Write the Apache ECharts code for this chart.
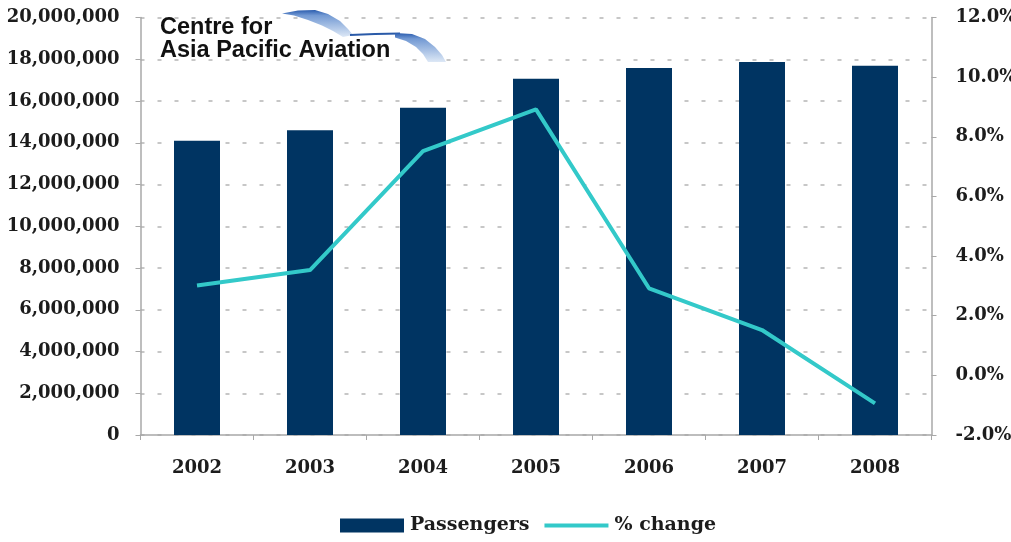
<!DOCTYPE html>
<html>
<head>
<meta charset="utf-8">
<script src="https://cdn.jsdelivr.net/npm/echarts@6/dist/echarts.min.js"></script>
<style>
  html, body { margin: 0; padding: 0; background: #fff; }
  #chart { width: 1011px; height: 542px; }
</style>
</head>
<body>
<div id="chart"></div>
<script>
// Annual passenger numbers with year-on-year growth
const years = ['2002', '2003', '2004', '2005', '2006', '2007', '2008'];
const passengers = [14100000, 14600000, 15680000, 17070000, 17580000, 17870000, 17690000];
const pctChange = [3.01, 3.53, 7.52, 8.92, 2.92, 1.52, -0.94];

const leftTicks = { min: 0, max: 20000000, interval: 2000000 };
const rightTicks = { min: -2, max: 12, interval: 2 };

const serif = 'DejaVu Serif';
const textColor = '#1c1c1c';
const axisGrey = '#a8a8a8';
const lineColor = '#33c9c9';

const swooshFill = () => new echarts.graphic.LinearGradient(0, 0, 0, 1, [
  { offset: 0, color: '#2a5cae' },
  { offset: 0.2, color: '#7299d3' },
  { offset: 1, color: '#dde8f6' }
]);

const chart = echarts.init(document.getElementById('chart'), null, { renderer: 'canvas' });

chart.setOption({
  animation: false,
  backgroundColor: '#ffffff',
  grid: {
    left: 140.5, right: 79.5, top: 17.5, bottom: 107,
    containLabel: false, outerBoundsMode: 'none'
  },
  legend: {
    left: 335,
    top: 511,
    itemWidth: 64,
    itemHeight: 14,
    itemGap: 13,
    textStyle: { fontFamily: serif, fontWeight: 'bold', fontSize: 19, color: textColor, padding: [0, 0, 0, 1] },
    data: [
      { name: 'Passengers', icon: 'rect' },
      { name: '% change', itemStyle: { opacity: 0 }, lineStyle: { width: 4, color: lineColor } }
    ]
  },
  xAxis: {
    type: 'category',
    data: years,
    axisLine: { lineStyle: { color: axisGrey, width: 1.5 } },
    axisTick: { show: true, length: 5, lineStyle: { color: axisGrey } },
    axisLabel: { fontFamily: serif, fontWeight: 'bold', fontSize: 18, color: textColor, margin: 24 }
  },
  yAxis: [
    {
      type: 'value',
      min: leftTicks.min,
      max: leftTicks.max,
      interval: leftTicks.interval,
      axisLine: { show: true, lineStyle: { color: axisGrey, width: 1.5 } },
      axisTick: { show: true, length: 5, lineStyle: { color: axisGrey } },
      axisLabel: {
        fontFamily: serif, fontWeight: 'bold', fontSize: 18, color: textColor, margin: 21,
        formatter: v => v.toLocaleString('en-US')
      },
      splitLine: { show: true, lineStyle: { color: '#b5b5b5', width: 1.5, type: [4, 13] } }
    },
    {
      type: 'value',
      min: rightTicks.min,
      max: rightTicks.max,
      interval: rightTicks.interval,
      position: 'right',
      axisLine: { show: true, lineStyle: { color: axisGrey, width: 1.5 } },
      axisTick: { show: true, length: 5, lineStyle: { color: axisGrey } },
      axisLabel: {
        fontFamily: serif, fontWeight: 'bold', fontSize: 18, color: textColor, margin: 24,
        formatter: v => v.toFixed(1) + '%'
      },
      splitLine: { show: false }
    }
  ],
  series: [
    {
      name: 'Passengers',
      type: 'bar',
      yAxisIndex: 0,
      data: passengers,
      barWidth: 46,
      itemStyle: { color: '#003462' }
    },
    {
      name: '% change',
      type: 'line',
      yAxisIndex: 1,
      data: pctChange,
      symbol: 'none',
      lineStyle: { color: lineColor, width: 4 },
      itemStyle: { color: lineColor },
      z: 5
    }
  ],
  graphic: [
    {
      type: 'polygon',
      z: 1,
      shape: {
        points: [[282, 13.5], [298, 10.5], [315, 10], [328, 14], [340, 21], [348, 29], [353, 35],
                 [343, 37], [333, 31], [322, 25.5], [308, 20], [294, 15.5]]
      },
      style: { fill: swooshFill() }
    },
    {
      type: 'polyline',
      z: 1,
      shape: { points: [[350, 35], [375, 34], [400, 33.5]] },
      style: { stroke: '#2a5aa8', lineWidth: 1.8, fill: null }
    },
    {
      type: 'polygon',
      z: 1,
      shape: {
        points: [[395, 33], [412, 34], [425, 39], [435, 47], [442, 55], [446, 62],
                 [428, 62], [423, 54], [416, 47], [406, 41], [395, 37.5]]
      },
      style: { fill: swooshFill() }
    },
    {
      type: 'text',
      z: 10,
      left: 160,
      top: 16,
      style: { text: 'Centre for', font: 'bold 23.5px "Liberation Sans", Arial, sans-serif', fill: '#111' }
    },
    {
      type: 'text',
      z: 10,
      left: 160,
      top: 39,
      style: { text: 'Asia Pacific Aviation', font: 'bold 23.5px "Liberation Sans", Arial, sans-serif', fill: '#111' }
    }
  ]
});
</script>
</body>
</html>
